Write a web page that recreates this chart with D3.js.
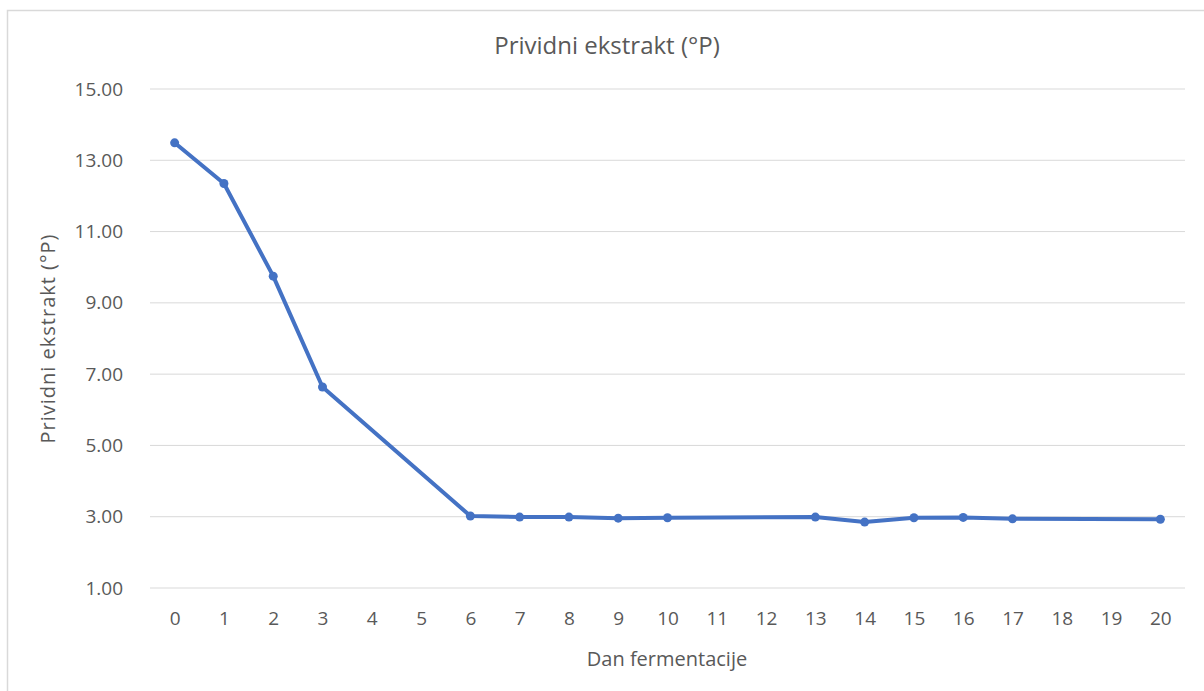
<!DOCTYPE html>
<html>
<head>
<meta charset="utf-8">
<script src="https://cdn.jsdelivr.net/npm/d3@7"></script>
<style>
  body { margin: 0; background: #fff; }
  text { font-family: "Open Sans", "Liberation Sans", sans-serif; fill: #595959; }
</style>
</head>
<body>
<div id="chart"></div>
<script>
// Days on the category axis and measured values
var days = ["0","1","2","3","4","5","6","7","8","9","10","11","12","13","14","15","16","17","18","19","20"];
var measuredDays = ["0","1","2","3","6","7","8","9","10","13","14","15","16","17","20"];
var extract = [13.49, 12.35, 9.75, 6.64, 3.02, 2.99, 2.99, 2.96, 2.97, 2.99, 2.85, 2.97, 2.98, 2.94, 2.93];
var yTicks = [1, 3, 5, 7, 9, 11, 13, 15];

var width = 1204,
    height = 691;

var margin = {top: 89, right: 19, bottom: 103, left: 150};

var svg = d3.select("#chart")
            .append("svg")
              .attr("width", width)
              .attr("height", height);

// Chart frame (only top and left edges visible)
svg.append("path")
    .attr("d", "M7.5," + height + "V10.5H" + width)
    .attr("fill", "none")
    .attr("stroke", "#d9d9d9")
    .attr("stroke-width", 1.5);

var x = d3.scalePoint()
          .domain(days)
          .range([margin.left, width - margin.right])
          .padding(0.5);

var y = d3.scaleLinear()
          .domain([1, 15])
          .range([height - margin.bottom, margin.top]);

// Gridlines
svg.append("g")
  .selectAll("line")
  .data(yTicks)
  .enter()
  .append("line")
    .attr("x1", margin.left)
    .attr("x2", width - margin.right)
    .attr("y1", function(d) { return y(d); })
    .attr("y2", function(d) { return y(d); })
    .attr("stroke", "#d9d9d9")
    .attr("stroke-width", 1);

// Y axis labels
var yAxis = svg.append("g")
  .attr("transform", "translate(" + (margin.left - 24) + ",0)")
  .call(d3.axisLeft(y).tickValues(yTicks).tickSize(0).tickFormat(d3.format(".2f")));
yAxis.select(".domain").remove();
yAxis.selectAll("text")
  .style("font-size", "19px")
  .style("fill", "#595959")
  .style("font-family", "'Open Sans', sans-serif");

// X axis labels
var xAxis = svg.append("g")
  .attr("transform", "translate(0," + (height - margin.bottom + 20) + ")")
  .call(d3.axisBottom(x).tickSize(0));
xAxis.select(".domain").remove();
xAxis.selectAll("text")
  .style("font-size", "19px")
  .style("fill", "#595959")
  .style("font-family", "'Open Sans', sans-serif");

var points = measuredDays.map(function(d, i) { return {day: d, value: extract[i]}; });

var line = d3.line()
             .x(function(d) { return x(d.day); })
             .y(function(d) { return y(d.value); });

svg.append("path")
    .datum(points)
    .attr("d", line)
    .attr("fill", "none")
    .attr("stroke", "#4472c4")
    .attr("stroke-width", 4)
    .attr("stroke-linejoin", "round");

svg.append("g")
  .selectAll("circle")
  .data(points)
  .enter()
  .append("circle")
    .attr("cx", function(d) { return x(d.day); })
    .attr("cy", function(d) { return y(d.value); })
    .attr("r", 4.5)
    .attr("fill", "#4472c4");

// Titles
svg.append("text")
    .attr("x", 607)
    .attr("y", 54)
    .attr("text-anchor", "middle")
    .style("font-size", "24px")
    .text("Prividni ekstrakt (°P)");

svg.append("text")
    .attr("x", 667)
    .attr("y", 666)
    .attr("text-anchor", "middle")
    .style("font-size", "20px")
    .text("Dan fermentacije");

svg.append("text")
    .attr("transform", "translate(55," + ((margin.top + height - margin.bottom) / 2) + ") rotate(-90)")
    .attr("text-anchor", "middle")
    .style("font-size", "20px")
    .style("letter-spacing", "1px")
    .text("Prividni ekstrakt (°P)");
</script>
</body>
</html>
